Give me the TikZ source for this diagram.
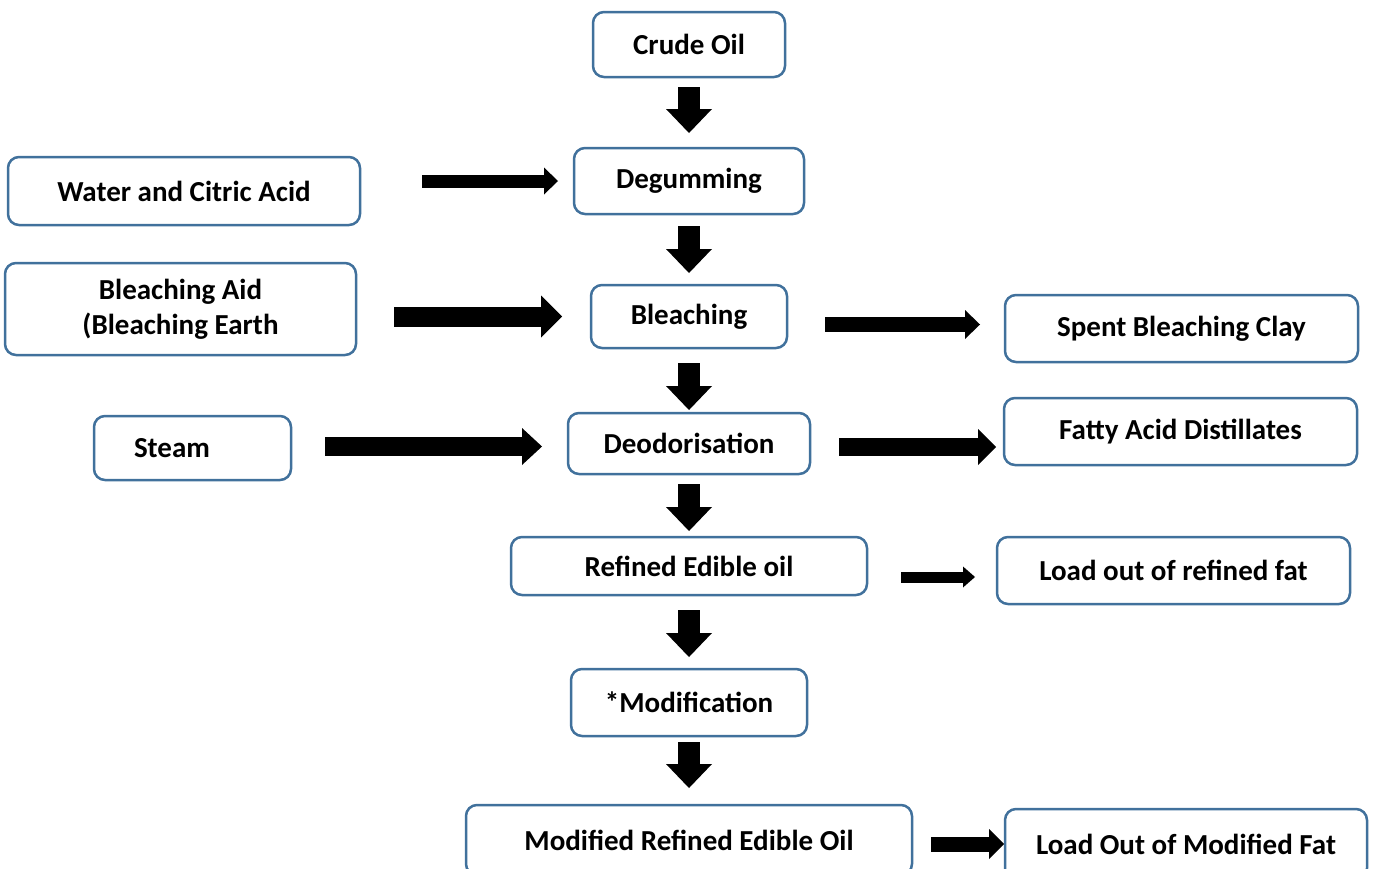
\documentclass[tikz,border=0pt]{standalone}
\usepackage{fontspec}
\setmainfont{Carlito}
\usetikzlibrary{positioning,calc,arrows.meta}
\definecolor{boxblue}{RGB}{65,113,156}
\tikzset{
   stage/.style={draw=boxblue, line width=1.25pt, rounded corners=5.5pt,
      fill=white, inner sep=0pt, outer sep=0pt, align=center,
      font=\bfseries\fontsize{14.5}{17.5}\selectfont},
   boxsize/.style 2 args={minimum width=#1, minimum height=#2},
   flow/.style n args={3}{line width=#1,
      -{Triangle[width=#2,length=#3,line width=0pt]}},
   flowdown/.style={flow={11pt}{23pt}{12pt}},
}

\begin{document}
\begin{tikzpicture}[x=0.5pt,y=-0.5pt]
   \useasboundingbox (0,0) rectangle (1374,868);
   \clip (0,0) rectangle (1374,868);

   % main line
   \node[stage, boxsize={96pt}{32.5pt}] (crude) at (689,44.5) {Crude Oil};
   \node[stage, boxsize={115pt}{33pt}, below=35.5pt of crude] (degum) {Degumming};
   \node[stage, boxsize={98pt}{31.5pt}, below=35.5pt of degum] (bleach) {Bleaching};
   \node[stage, boxsize={121pt}{30.5pt}, below=32.5pt of bleach] (deod) {Deodorisation};
   \node[stage, boxsize={178pt}{29pt}, below=31.5pt of deod] (refined) {Refined Edible oil};
   \node[stage, boxsize={118pt}{33.5pt}, below=37pt of refined] (modif) {*Modification};
   \node[stage, boxsize={223pt}{35pt}, below=34.5pt of modif] (modified) {Modified Refined Edible Oil};

   % inputs
   \node[stage, boxsize={176pt}{34pt}, left=107pt of degum, yshift=-5pt] (water) {Water and Citric Acid};
   \node[stage, boxsize={175.5pt}{46pt}, left=117.5pt of bleach, yshift=3.75pt] (aid) {Bleaching Aid\\(Bleaching Earth};
   \node[stage, boxsize={98.5pt}{32pt}, text width=58.5pt, inner xsep=20pt, align=left,
      left=138.5pt of deod, yshift=-2.25pt] (steam) {Steam};

   % outputs
   \node[stage, boxsize={176.5pt}{33.5pt}, right=109pt of bleach, yshift=-6pt] (spent) {Spent Bleaching Clay};
   \node[stage, boxsize={176.5pt}{33.5pt}, right=97pt of deod, yshift=6pt] (fatty) {Fatty Acid Distillates};
   \node[stage, boxsize={176.5pt}{33.5pt}, right=65pt of refined, yshift=-2.25pt] (loadref) {Load out of refined fat};
   \node[stage, boxsize={181pt}{35pt}, right=46.5pt of modified, yshift=-2pt] (loadmod) {Load Out of Modified Fat};

   % down arrows
   \draw[flowdown, shorten <=5pt, shorten >=7.5pt] (crude) -- (degum);
   \draw[flowdown, shorten <=6pt, shorten >=6pt] (degum) -- (bleach);
   \draw[flowdown, shorten <=7.5pt, shorten >=1.5pt] (bleach) -- (deod);
   \draw[flowdown, shorten <=5pt, shorten >=3pt] (deod) -- (refined);
   \draw[flowdown, shorten <=7.5pt, shorten >=6pt] (refined) -- (modif);
   \draw[flowdown, shorten <=3pt, shorten >=8.5pt] (modif) -- (modified);

   % side arrows
   \draw[flow={6.5pt}{13.5pt}{7pt}, shorten <=31pt, shorten >=8pt]
      (water.east |- degum.west) -- (degum.west);
   \draw[flow={10pt}{21pt}{10.5pt}, shorten <=19pt, shorten >=14.5pt]
      (aid.east |- bleach.west) -- (bleach.west);
   \draw[flow={9.5pt}{18.5pt}{10pt}, shorten <=17pt, shorten >=13pt]
      ($(steam.east |- deod.west)+(0,3)$) -- ($(deod.west)+(0,3)$);
   \draw[flow={7.5pt}{14.5pt}{7.5pt}, shorten <=19pt, shorten >=12.5pt]
      ($(bleach.east |- spent.west)+(0,-4)$) -- ($(spent.west)+(0,-4)$);
   \draw[flow={9pt}{18pt}{9pt}, shorten <=14.5pt, shorten >=4pt]
      ($(deod.east)+(0,3.5)$) -- ($(deod.east -| fatty.west)+(0,3.5)$);
   \draw[flow={5.5pt}{10.5pt}{6pt}, shorten <=17pt, shorten >=11pt]
      ($(refined.east |- loadref.west)+(0,6.5)$) -- ($(loadref.west)+(0,6.5)$);
   \draw[flow={7.5pt}{15pt}{7.5pt}, shorten <=9.5pt, shorten >=0.5pt]
      (modified.east |- loadmod.west) -- (loadmod.west);
\end{tikzpicture}
\end{document}
